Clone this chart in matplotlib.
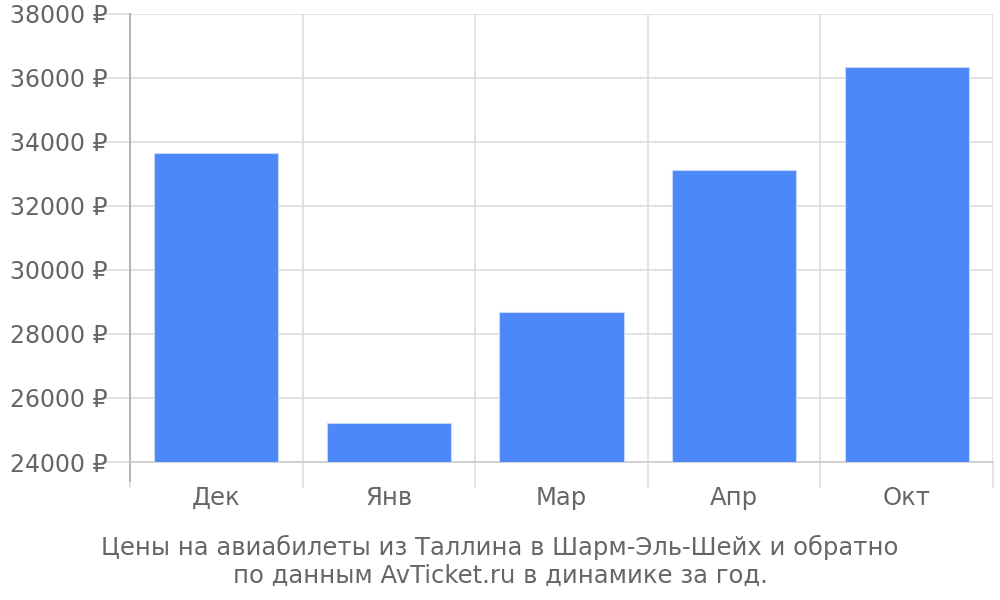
import numpy as np
import matplotlib.pyplot as plt
from matplotlib.ticker import FixedLocator

# data
months = ['Дек', 'Янв', 'Мар', 'Апр', 'Окт']
prices = [33660, 25220, 28690, 33130, 36350]
yticks = list(range(24000, 38001, 2000))
caption = 'Цены на авиабилеты из Таллина в Шарм-Эль-Шейх и обратно\nпо данным AvTicket.ru в динамике за год.'

grid_col = '#dddddd'
text_col = '#666666'
bar_col = '#4d88f9'

fig = plt.figure(figsize=(10, 6), dpi=100)
ax = fig.add_axes([0.13, 0.23, 0.863, 0.7467])

x = np.arange(len(months))
ax.bar(x, prices, width=0.72, color=bar_col, edgecolor='#c8d8fb', linewidth=0.8, zorder=3)

ax.set_ylim(yticks[0], yticks[-1])
ax.set_xlim(-0.5, len(months) - 0.5)
ax.set_yticks(yticks)
ax.set_yticklabels([f'{v} ₽' for v in yticks])
ax.set_xticks(x)
ax.set_xticklabels(months)
ax.xaxis.set_minor_locator(FixedLocator(np.arange(-0.5, len(months), 1.0)))

ax.grid(axis='y', color=grid_col, linewidth=1.2, zorder=0)
ax.grid(axis='x', which='minor', color=grid_col, linewidth=1.2, zorder=0)

ax.tick_params(axis='y', length=20, width=1.2, color=grid_col, labelsize=17, labelcolor=text_col, pad=-4)
ax.tick_params(axis='x', which='major', length=0, labelsize=17.5, labelcolor=text_col, pad=17)
ax.tick_params(axis='x', which='minor', length=19, width=1.2, color=grid_col)

for s in ['top', 'right']:
    ax.spines[s].set_visible(False)
ax.spines['left'].set_color('#aaaaaa')
ax.spines['left'].set_linewidth(1.2)
ax.spines['left'].set_bounds(yticks[0], yticks[-1])
ax.spines['bottom'].set_color('#cccccc')
ax.spines['bottom'].set_linewidth(1.2)

# left spine goes down past the axis like the tick marks
ax.plot([-0.5, -0.5], [0, -0.042], transform=ax.get_xaxis_transform(), color='#aaaaaa',
        linewidth=1.2, clip_on=False)

fig.text(0.5, 0.065, caption, ha='center', va='center', fontsize=17.5, color=text_col, linespacing=1.2)

fig.savefig('out.png', dpi=100)
